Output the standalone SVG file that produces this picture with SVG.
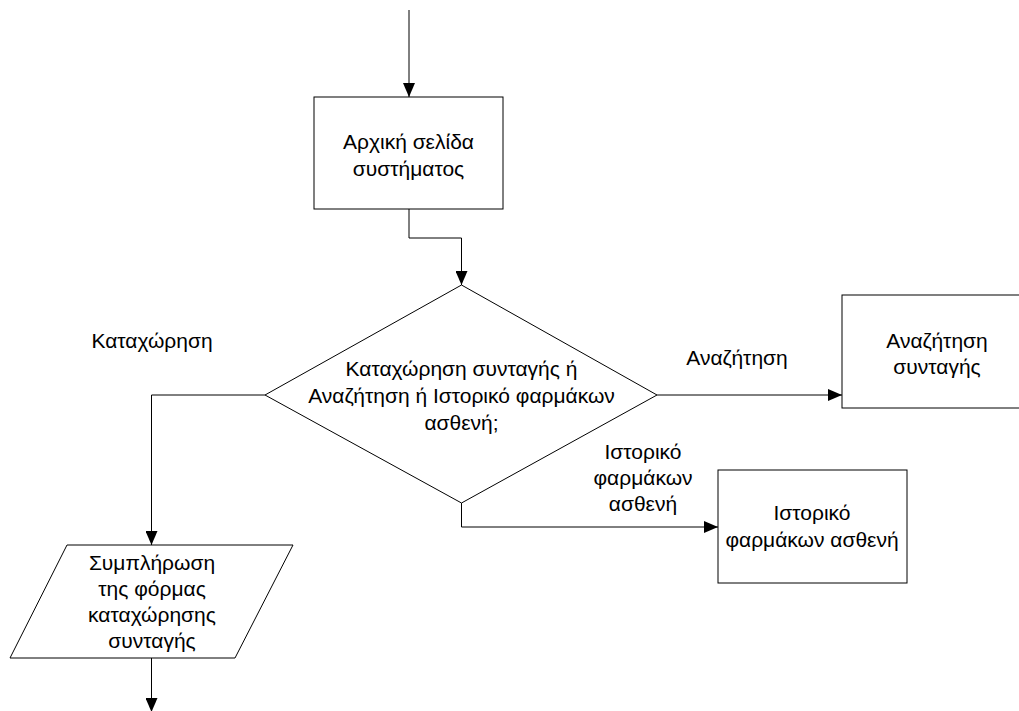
<svg xmlns="http://www.w3.org/2000/svg" width="1019" height="711" viewBox="0 0 1019 711">
<style>
.shape{fill:#fff;stroke:#000;stroke-width:1}
.conn{fill:none;stroke:#000;stroke-width:1}
text{font-family:"Liberation Sans",Arial,sans-serif;font-size:21px;fill:#000;text-anchor:middle}
</style>
<defs>
<marker id="arr" markerWidth="14" markerHeight="12" refX="14" refY="6" orient="auto" markerUnits="userSpaceOnUse">
<path d="M0,0 L14,6 L0,12 z" fill="#000"/>
</marker>
</defs>
<rect width="1019" height="711" fill="#fff"/>
<g id="connectors">
<path class="conn" d="M409,10 V97" marker-end="url(#arr)"/>
<path class="conn" d="M409,209 V238 H461.5 V285" marker-end="url(#arr)"/>
<path class="conn" d="M657,395 H842" marker-end="url(#arr)"/>
<path class="conn" d="M461.5,503 V527 H718" marker-end="url(#arr)"/>
<path class="conn" d="M265,395 H151.5 V545" marker-end="url(#arr)"/>
<path class="conn" d="M151.5,658 V712" marker-end="url(#arr)"/>
<text x="152" y="348">Καταχώρηση</text>
<text x="737" y="365">Αναζήτηση</text>
<text x="643" y="459">Ιστορικό</text>
<text x="643" y="485">φαρμάκων</text>
<text x="643" y="511">ασθενή</text>
</g>
<g id="start">
<rect class="shape" x="314" y="97" width="189" height="112"/>
<text x="408.5" y="149">Αρχική σελίδα</text>
<text x="408.5" y="176">συστήματος</text>
</g>
<g id="decision">
<polygon class="shape" points="461.5,285 657,395 461.5,503 265,395"/>
<text x="461.5" y="376">Καταχώρηση συνταγής ή</text>
<text x="461.5" y="403">Αναζήτηση ή Ιστορικό φαρμάκων</text>
<text x="461.5" y="430">ασθενή;</text>
</g>
<g id="search">
<rect class="shape" x="842" y="295" width="190" height="113"/>
<text x="937" y="348">Αναζήτηση</text>
<text x="937" y="374">συνταγής</text>
</g>
<g id="history">
<rect class="shape" x="718" y="470" width="189" height="113"/>
<text x="812" y="520">Ιστορικό</text>
<text x="812" y="547">φαρμάκων ασθενή</text>
</g>
<g id="form">
<polygon class="shape" points="67,545 293,545 235,658 10,658"/>
<text x="152" y="570">Συμπλήρωση</text>
<text x="152" y="596">της φόρμας</text>
<text x="152" y="622">καταχώρησης</text>
<text x="152" y="648">συνταγής</text>
</g>
</svg>
